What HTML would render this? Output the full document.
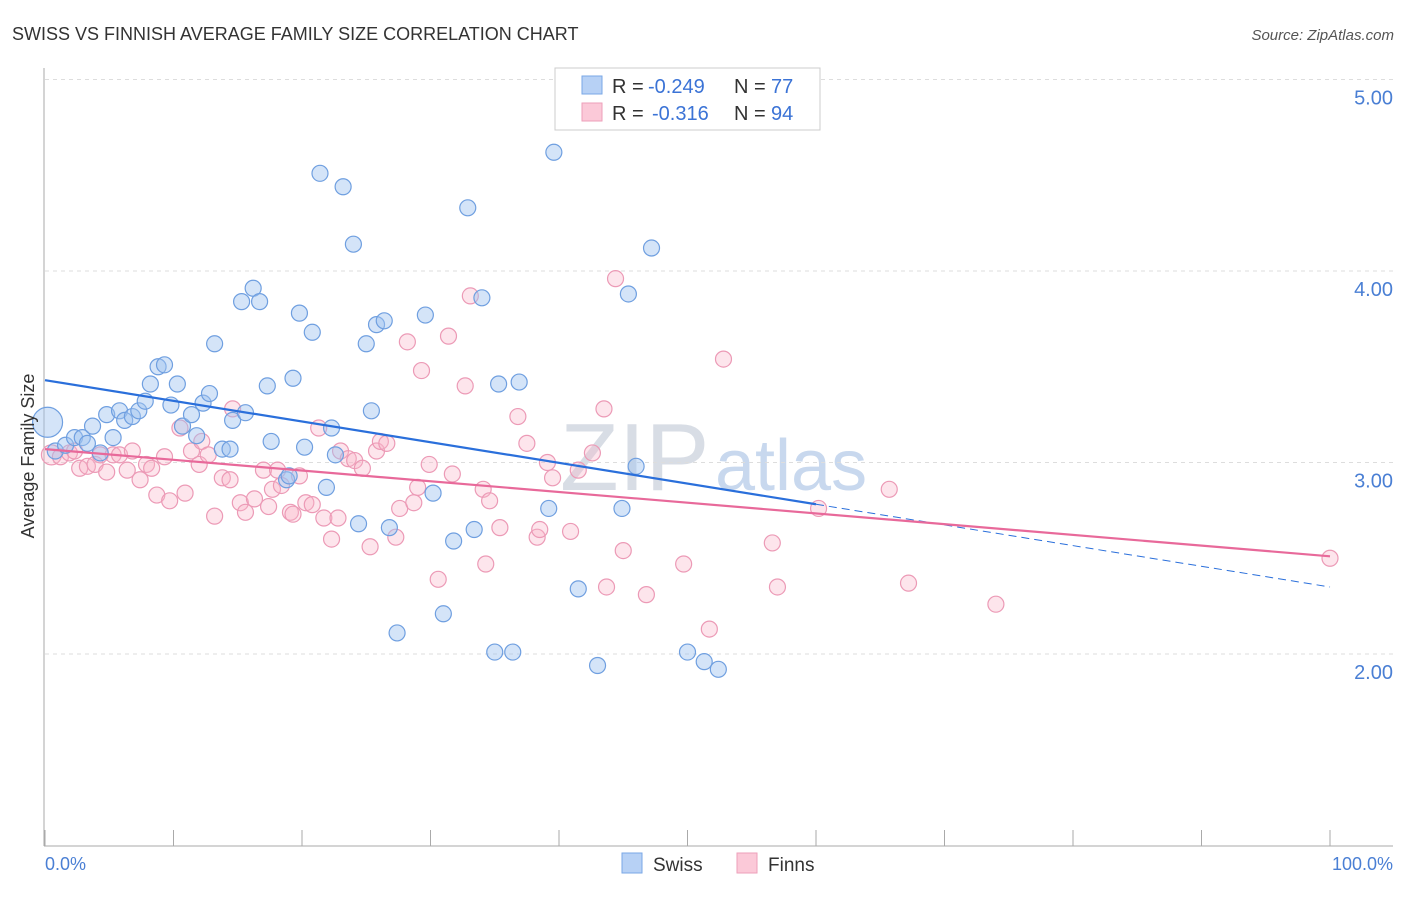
<!DOCTYPE html>
<html><head><meta charset="utf-8">
<style>
body{margin:0;background:#fff;font-family:"Liberation Sans",sans-serif;}
svg text{font-family:"Liberation Sans",sans-serif;}
</style></head>
<body>
<svg id="chart" width="1406" height="892" viewBox="0 0 1406 892">
<text x="12" y="40" font-size="18" fill="#333">SWISS VS FINNISH AVERAGE FAMILY SIZE CORRELATION CHART</text>
<text x="1394" y="40" font-size="15" fill="#555" font-style="italic" text-anchor="end">Source: ZipAtlas.com</text>
<text x="560" y="490" font-size="96" fill="#d8dde5" font-family="Liberation Serif">ZIP</text>
<text x="715" y="490" font-size="72" fill="#c8d8ee">atlas</text>
<g id="grid"></g>
<g id="axes"></g>
<g id="finns"></g>
<g id="swiss"></g>
<g id="trends"></g>
<text transform="translate(34,456) rotate(-90)" font-size="18" fill="#333" text-anchor="middle">Average Family Size</text>
<text x="45" y="870" font-size="18" fill="#4a7fd4">0.0%</text>
<text x="1393" y="870" font-size="18" fill="#4a7fd4" text-anchor="end">100.0%</text>
<g>
<rect x="555" y="68" width="265" height="62" fill="#fff" stroke="#ccc"/>
<rect x="582" y="76" width="20" height="18" fill="#b7d1f5" stroke="#7aa7e6"/>
<rect x="582" y="103" width="20" height="18" fill="#fbc9d8" stroke="#ee9fba"/>
<text x="612" y="93" font-size="20" fill="#333">R =</text>
<text x="648" y="93" font-size="20" fill="#3b73d6">-0.249</text>
<text x="734" y="93" font-size="20" fill="#333">N =</text>
<text x="771" y="93" font-size="20" fill="#3b73d6">77</text>
<text x="612" y="120" font-size="20" fill="#333">R =</text>
<text x="652" y="120" font-size="20" fill="#3b73d6">-0.316</text>
<text x="734" y="120" font-size="20" fill="#333">N =</text>
<text x="771" y="120" font-size="20" fill="#3b73d6">94</text>
</g>
<g>
<rect x="622" y="853" width="20" height="20" fill="#b7d1f5" stroke="#7aa7e6"/>
<text x="653" y="871" font-size="19" fill="#333">Swiss</text>
<rect x="737" y="853" width="20" height="20" fill="#fbc9d8" stroke="#ee9fba"/>
<text x="768" y="871" font-size="19" fill="#333">Finns</text>
</g>
</svg>
<script>
const yTicks=[2,3,4,5];
const yTickLabels=["2.00","3.00","4.00","5.00"];
const swissX=[0.2,0.8,1.6,2.3,2.9,3.3,3.7,4.3,4.8,5.3,5.8,6.2,6.8,7.3,7.8,8.2,8.8,9.3,9.8,10.3,10.7,11.4,11.8,12.3,12.8,13.2,13.8,14.4,14.6,15.3,15.6,16.2,16.7,17.3,17.6,18.8,19.0,19.3,19.8,20.2,20.8,21.4,21.9,22.3,22.6,23.2,24.0,24.4,25.0,25.4,25.8,26.4,26.8,27.4,29.6,30.2,31.0,31.8,32.9,33.4,34.0,35.0,35.3,36.4,36.9,39.2,39.6,41.5,43.0,44.9,45.4,46.0,47.2,50.0,51.3,52.4];
const swissY=[3.21,3.06,3.09,3.13,3.13,3.10,3.19,3.05,3.25,3.13,3.27,3.22,3.24,3.27,3.32,3.41,3.50,3.51,3.30,3.41,3.19,3.25,3.14,3.31,3.36,3.62,3.07,3.07,3.22,3.84,3.26,3.91,3.84,3.40,3.11,2.91,2.93,3.44,3.78,3.08,3.68,4.51,2.87,3.18,3.04,4.44,4.14,2.68,3.62,3.27,3.72,3.74,2.66,2.11,3.77,2.84,2.21,2.59,4.33,2.65,3.86,2.01,3.41,2.01,3.42,2.76,4.62,2.34,1.94,2.76,3.88,2.98,4.12,2.01,1.96,1.92];
const finnsX=[0.5,1.2,1.9,2.3,2.7,3.3,3.9,4.3,4.8,5.3,5.8,6.4,6.8,7.4,7.9,8.3,8.7,9.3,9.7,10.5,10.9,11.4,12.0,12.2,12.7,13.2,13.8,14.4,14.6,15.2,15.6,16.3,17.0,17.4,17.7,18.1,18.4,19.1,19.3,19.8,20.3,20.8,21.3,21.7,22.3,22.8,23.0,23.6,24.1,24.7,25.3,25.8,26.1,26.6,27.3,27.6,28.2,28.7,29.0,29.3,29.9,30.6,31.4,31.7,32.7,33.1,34.1,34.3,34.6,35.4,36.8,37.5,38.3,38.5,39.1,39.5,40.9,41.5,42.6,43.5,43.7,44.4,45.0,46.8,49.7,51.7,52.8,56.6,57.0,60.2,65.7,67.2,74.0,100];
const finnsY=[3.04,3.03,3.05,3.06,2.97,2.98,2.99,3.04,2.95,3.04,3.04,2.96,3.06,2.91,2.99,2.97,2.83,3.03,2.80,3.18,2.84,3.06,2.99,3.11,3.04,2.72,2.92,2.91,3.28,2.79,2.74,2.81,2.96,2.77,2.86,2.96,2.88,2.74,2.73,2.93,2.79,2.78,3.18,2.71,2.60,2.71,3.06,3.02,3.01,2.97,2.56,3.06,3.11,3.10,2.61,2.76,3.63,2.79,2.87,3.48,2.99,2.39,3.66,2.94,3.40,3.87,2.86,2.47,2.80,2.66,3.24,3.10,2.61,2.65,3.00,2.92,2.64,2.96,3.05,3.28,2.35,3.96,2.54,2.31,2.47,2.13,3.54,2.58,2.35,2.76,2.86,2.37,2.26,2.50];
const swissTrend=[3.43,-0.0108,60];
const finnsTrend=[3.07,-0.0056,100];
const NS="http://www.w3.org/2000/svg";
const sx=v=>45+v*12.85;
const sy=v=>845.5-(v-1)*191.5;
function mk(tag,attrs,parent){const e=document.createElementNS(NS,tag);for(const k in attrs)e.setAttribute(k,attrs[k]);parent.appendChild(e);return e;}
const grid=document.getElementById('grid');
yTicks.forEach((t,i)=>{
 const l=mk('line',{x1:45,x2:1393,y1:sy(t),y2:sy(t),stroke:'#ddd','stroke-dasharray':'4,4'},grid);
 
 
 const tx=mk('text',{x:1393,y:sy(t)+25,'font-size':20,fill:'#4a7fd4','text-anchor':'end'},grid);
 tx.textContent=yTickLabels[i];
 
 
});
const axes=document.getElementById('axes');
const ya=mk('line',{x1:44,x2:44,y1:68,y2:846,stroke:'#aaa'},axes);


const xa=mk('line',{x1:44,x2:1393,y1:846,y2:846,stroke:'#aaa'},axes);


for(let i=0;i<=10;i++){const t=mk('line',{x1:sx(i*10),x2:sx(i*10),y1:830,y2:846,stroke:'#aaa'},axes);
 
 }
function pts(g,X,Y,fill,stroke,name,firstR){
 X.forEach((x,i)=>{const c=mk('circle',{cx:sx(x),cy:sy(Y[i]),r:i===0?firstR:8,fill:fill,stroke:stroke,'stroke-width':1.2},g);
 
 });
}
pts(document.getElementById('finns'),finnsX,finnsY,'rgba(248,180,200,0.35)','#ec9ab6','finns-point',10);
pts(document.getElementById('swiss'),swissX,swissY,'rgba(160,195,240,0.45)','#6f9fe0','swiss-point',15);
const tr=document.getElementById('trends');
const s1=mk('line',{x1:sx(0),y1:sy(swissTrend[0]),x2:sx(swissTrend[2]),y2:sy(swissTrend[0]+swissTrend[1]*swissTrend[2]),stroke:'#2a6fdb','stroke-width':2.2},tr);


const s2=mk('line',{x1:sx(swissTrend[2]),y1:sy(swissTrend[0]+swissTrend[1]*swissTrend[2]),x2:sx(100),y2:sy(swissTrend[0]+swissTrend[1]*100),stroke:'#2a6fdb','stroke-width':1,'stroke-dasharray':'8,5'},tr);


const f1=mk('line',{x1:sx(0),y1:sy(finnsTrend[0]),x2:sx(finnsTrend[2]),y2:sy(finnsTrend[0]+finnsTrend[1]*finnsTrend[2]),stroke:'#e8699a','stroke-width':2.2},tr);


</script>
</body></html>
